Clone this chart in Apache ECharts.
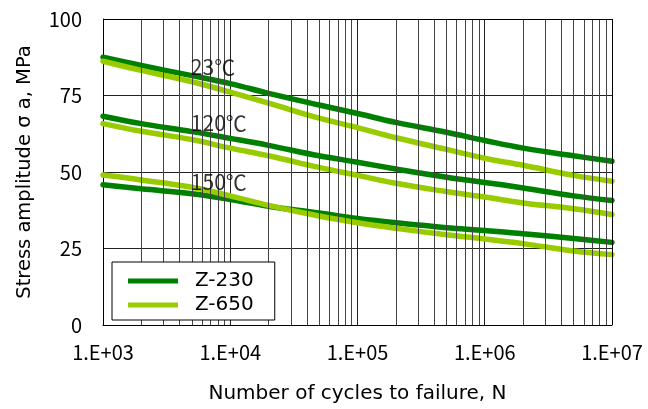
<!DOCTYPE html>
<html>
<head>
<meta charset="utf-8">
<script src="https://cdn.jsdelivr.net/npm/echarts@6/dist/echarts.min.js"></script>
<style>
  html, body { margin: 0; padding: 0; background: #fff; }
  #chart { width: 648px; height: 409px; }
</style>
</head>
<body>
<div id="chart"></div>
<script>
// cycles to failure (x) shared by every curve
const cycles = [1e3, 2e3, 5e3, 1e4, 2e4, 5e4, 1e5, 2e5, 5e5, 1e6, 2e6, 5e6, 1e7];

// stress amplitude, MPa
const z230_23 = [87.5, 84.8, 81.5, 78.9, 75.7, 71.9, 69.1, 66.2, 63.0, 60.3, 57.8, 55.3, 53.5];
const z230_120 = [68.2, 65.8, 63.2, 61.0, 58.7, 55.3, 53.2, 51.0, 48.3, 46.6, 44.8, 42.2, 40.7];
const z230_150 = [45.8, 44.5, 42.9, 41.0, 38.8, 36.6, 34.8, 33.4, 31.8, 30.9, 29.8, 28.3, 27.0];
const z650_23 = [86.2, 83.2, 79.5, 76.1, 72.5, 67.6, 64.5, 61.2, 57.4, 54.5, 52.2, 48.9, 47.0];
const z650_120 = [65.8, 63.3, 60.6, 57.8, 55.3, 51.5, 48.9, 46.3, 43.6, 41.8, 39.9, 38.0, 36.1];
const z650_150 = [49.0, 47.4, 45.0, 42.2, 39.1, 35.6, 33.4, 31.6, 29.5, 28.1, 26.6, 24.2, 23.0];

// temperature labels [cycles, stress, text]
const tempLabels = [
  [4900, 84.2, '23℃'],
  [4900, 66.0, '120℃'],
  [4900, 46.8, '150℃']
];

const yTicks = [0, 25, 50, 75, 100];

// minor vertical grid lines 2..9 in each decade
const minorLines = [];
for (let d = 1e3; d < 1e7; d *= 10) {
  for (let k = 2; k <= 9; k++) minorLines.push(k * d);
}

const DARK = '#008000';
const LIGHT = '#99cc00';
const FONT = '"Noto Sans CJK JP", sans-serif';
const WIDE = '"DejaVu Sans", sans-serif';

const pairs = (ys) => cycles.map((x, i) => [x, ys[i]]);

const curve = (name, color, ys) => ({
  name: name,
  type: 'line',
  data: pairs(ys),
  smooth: 0.4,
  showSymbol: false,
  symbol: 'none',
  lineStyle: { width: 5.5, color: color, cap: 'round' },
  itemStyle: { color: color },
  z: 3
});

const chart = echarts.init(document.getElementById('chart'));

chart.setOption({
  animation: false,
  textStyle: { fontFamily: FONT },
  grid: { left: 103, right: 36, top: 19, bottom: 81 },
  legend: {
    data: ['Z-230', 'Z-650'],
    orient: 'vertical',
    left: 112,
    top: 262,
    padding: [9, 21, 5, 16],
    itemGap: 4,
    itemWidth: 50,
    itemHeight: 5,
    icon: 'rect',
    borderColor: '#000',
    borderWidth: 1,
    borderRadius: 0,
    backgroundColor: '#fff',
    textStyle: { fontFamily: WIDE, fontSize: 20, color: '#000', padding: [0, 0, 0, 12] },
    z: 10
  },
  xAxis: {
    type: 'log',
    logBase: 10,
    min: 1e3,
    max: 1e7,
    name: 'Number of cycles to failure, N',
    nameLocation: 'middle',
    nameGap: 59,
    nameTextStyle: { fontFamily: WIDE, fontSize: 20, color: '#000' },
    axisLine: { show: true, lineStyle: { color: '#000', width: 1 } },
    axisTick: { show: false },
    axisLabel: {
      fontFamily: FONT,
      fontSize: 20,
      color: '#000',
      margin: 17,
      formatter: (v) => '1.E+' + String(Math.round(Math.log10(v))).padStart(2, '0')
    },
    splitLine: { show: true, lineStyle: { color: '#222', width: 1 } }
  },
  yAxis: {
    type: 'value',
    min: 0,
    max: 100,
    interval: 25,
    name: 'Stress amplitude σ a, MPa',
    nameLocation: 'middle',
    nameGap: 68,
    nameRotate: 90,
    nameTextStyle: { fontFamily: WIDE, fontSize: 19.5, color: '#000' },
    axisLine: { show: true, lineStyle: { color: '#000', width: 1 } },
    axisTick: { show: false },
    axisLabel: {
      fontFamily: FONT,
      fontSize: 20,
      color: '#000',
      margin: 21,
      formatter: (v) => (yTicks.indexOf(v) >= 0 ? String(v) : '')
    },
    splitLine: { show: true, lineStyle: { color: '#222', width: 1 } }
  },
  series: [
    {
      name: 'grid',
      type: 'line',
      data: [],
      silent: true,
      markLine: {
        silent: true,
        symbol: 'none',
        label: { show: false },
        lineStyle: { color: '#444', width: 1, type: 'solid' },
        data: minorLines.map((x) => ({ xAxis: x }))
      },
      z: 1
    },
    // right and top frame
    {
      name: 'frame',
      type: 'line',
      data: [],
      silent: true,
      markLine: {
        silent: true,
        symbol: 'none',
        label: { show: false },
        lineStyle: { color: '#000', width: 1, type: 'solid' },
        data: [{ xAxis: 1e7 }, { yAxis: 100 }]
      },
      z: 1
    },
    curve('Z-230', DARK, z230_23),
    curve('Z-230', DARK, z230_120),
    curve('Z-230', DARK, z230_150),
    curve('Z-650', LIGHT, z650_23),
    curve('Z-650', LIGHT, z650_120),
    curve('Z-650', LIGHT, z650_150),
    {
      name: 'labels',
      type: 'scatter',
      data: tempLabels,
      symbolSize: 0,
      silent: true,
      label: {
        show: true,
        position: 'right',
        distance: 0,
        formatter: (p) => p.data[2],
        fontFamily: FONT,
        fontSize: 21,
        color: '#000'
      },
      z: 5
    }
  ]
});
</script>
</body>
</html>
